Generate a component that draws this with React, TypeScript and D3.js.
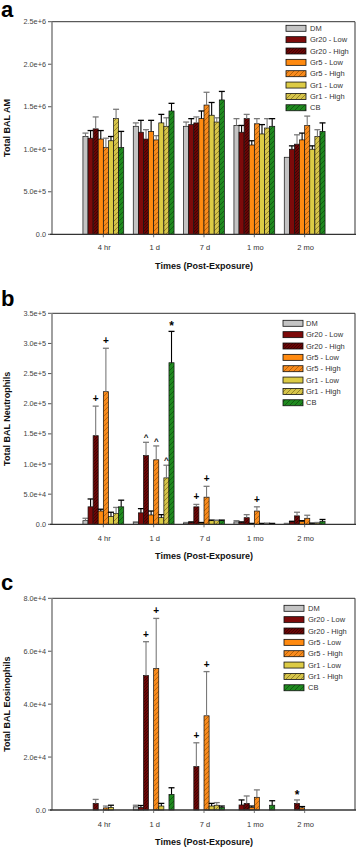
import React from "react";
import * as d3 from "d3";

const TIMES = ["4 hr", "1 d", "7 d", "1 mo", "2 mo"];
const SERIES = ["DM", "Gr20 - Low", "Gr20 - High", "Gr5 - Low", "Gr5 - High", "Gr1 - Low", "Gr1 - High", "CB"];
const FILLS = ["#c4c4c4", "#7d0a0a", "#6a0606", "#ff8a10", "#f88a1c", "#dccb45", "#d6c44a", "#1f8a1f"];
const HATCHED = [false, false, true, false, true, false, true, true];
const HATCH_INK = ["#000", "#000", "#2a0000", "#000", "#8a4a00", "#000", "#6a5a10", "#0a3a0a"];

// Panel a: Total BAL AM (series x time)
const amMean = [
  [1.15e6, 1.27e6, 1.27e6, 1.28e6, 0.906e6],
  [1.13e6, 1.20e6, 1.29e6, 1.20e6, 1.00e6],
  [1.24e6, 1.12e6, 1.31e6, 1.36e6, 1.06e6],
  [1.12e6, 1.21e6, 1.36e6, 1.05e6, 1.11e6],
  [1.02e6, 1.11e6, 1.52e6, 1.30e6, 1.28e6],
  [1.10e6, 1.31e6, 1.40e6, 1.18e6, 1.00e6],
  [1.36e6, 1.27e6, 1.32e6, 1.25e6, 1.15e6],
  [1.02e6, 1.45e6, 1.58e6, 1.27e6, 1.21e6],
];
const amErr = [
  [0.04e6, 0.04e6, 0.05e6, 0.08e6, 0],
  [0.09e6, 0.14e6, 0.07e6, 0.08e6, 0.04e6],
  [0.14e6, 0.11e6, 0.07e6, 0.05e6, 0.11e6],
  [0.10e6, 0.13e6, 0.09e6, 0.05e6, 0.08e6],
  [0.11e6, 0.05e6, 0.15e6, 0.06e6, 0.11e6],
  [0.05e6, 0.10e6, 0.15e6, 0.11e6, 0.04e6],
  [0.11e6, 0.10e6, 0.05e6, 0.11e6, 0.08e6],
  [0.19e6, 0.09e6, 0.10e6, 0.09e6, 0.10e6],
];

// Panel b: Total BAL Neutrophils
const neuMean = [
  [6e3, 3e3, 2e3, 4e3, 1e3],
  [29e3, 19e3, 3e3, 3e3, 4e3],
  [147e3, 114e3, 29e3, 11e3, 14e3],
  [22e3, 15.5e3, 2e3, 1e3, 5e3],
  [220e3, 107e3, 45e3, 22e3, 10e3],
  [13e3, 11e3, 6e3, 1e3, 1.5e3],
  [18e3, 77e3, 6e3, 1.5e3, 2e3],
  [29e3, 268e3, 6e3, 1e3, 5e3],
];
const neuErr = [
  [4e3, 1e3, 1e3, 2e3, 0.5e3],
  [13e3, 7e3, 1e3, 1e3, 1e3],
  [49e3, 22e3, 4e3, 5e3, 6e3],
  [3e3, 6.5e3, 1e3, 0.5e3, 1e3],
  [72e3, 23e3, 18e3, 7e3, 5e3],
  [7e3, 5e3, 1e3, 0.5e3, 0.5e3],
  [10e3, 21e3, 1e3, 0.5e3, 1e3],
  [11e3, 52e3, 1e3, 0.5e3, 3e3],
];

// Panel c: Total BAL Eosinophils
const eosMean = [
  [0, 1.2e3, 0, 0, 0],
  [0, 1.0e3, 0, 1.9e3, 0],
  [2.5e3, 50.8e3, 16.4e3, 2.5e3, 2.5e3],
  [0, 0, 0, 1.0e3, 0.8e3],
  [0.8e3, 53.5e3, 35.6e3, 4.8e3, 0],
  [1.0e3, 1.5e3, 1.5e3, 0, 0],
  [0, 0, 1.8e3, 0, 0],
  [0, 5.9e3, 1.0e3, 1.8e3, 0],
];
const eosErr = [
  [0, 0.6e3, 0, 0, 0],
  [0, 0.7e3, 0, 1.9e3, 0],
  [1.5e3, 12.8e3, 9.0e3, 2.8e3, 1.3e3],
  [0, 0, 0, 0.5e3, 0.5e3],
  [0.7e3, 18.9e3, 16.7e3, 2.8e3, 0],
  [0.8e3, 1.0e3, 1.0e3, 0, 0],
  [0, 0, 1.0e3, 0, 0],
  [0, 2.5e3, 0.5e3, 1.7e3, 0],
];

const amTicks = [0, 5e5, 1e6, 1.5e6, 2e6, 2.5e6];
const amTickLabels = ["0.0", "5.0e+5", "1.0e+6", "1.5e+6", "2.0e+6", "2.5e+6"];
const neuTicks = [0, 5e4, 1e5, 1.5e5, 2e5, 2.5e5, 3e5, 3.5e5];
const neuTickLabels = ["0.0", "5.0e+4", "1.0e+5", "1.5e+5", "2.0e+5", "2.5e+5", "3.0e+5", "3.5e+5"];
const eosTicks = [0, 2e4, 4e4, 6e4, 8e4];
const eosTickLabels = ["0.0", "2.0e+4", "4.0e+4", "6.0e+4", "8.0e+4"];

// annotations: [series, time, symbol]
const neuMarks: [number, number, string][] = [
  [2, 0, "+"], [4, 0, "+"], [2, 1, "^"], [4, 1, "^"], [6, 1, "^"], [7, 1, "*"],
  [2, 2, "+"], [4, 2, "+"], [4, 3, "+"],
];
const eosMarks: [number, number, string][] = [
  [2, 1, "+"], [4, 1, "+"], [2, 2, "+"], [4, 2, "+"], [2, 4, "*"],
];

const FONT = "'Liberation Sans', Arial, sans-serif";
const X0 = 52;
const X1 = 355;

type PanelProps = {
  id: string;
  letter: string;
  letterY: number;
  top: number;
  bottom: number;
  max: number;
  means: number[][];
  errs: number[][];
  ticks: number[];
  tickLabels: string[];
  ytitle: string;
  marks: [number, number, string][];
  legendX: number;
  legendTextX: number;
  legendY: number;
  xLabelY: number;
  xTitleY: number;
};

function Panel(p: PanelProps) {
  const x = d3.scaleLinear().domain([0, 6]).range([X0 + 1, X1]);
  const inner = d3.scaleBand<number>().domain(d3.range(SERIES.length)).range([-20.4, 20.4]).padding(0);
  const y = d3.scaleLinear().domain([0, p.max]).range([p.bottom, p.top]);
  const bw = inner.bandwidth();
  const fillFor = (i: number) => (HATCHED[i] ? `url(#${p.id}-h${i})` : FILLS[i]);
  return (
    <g>
      <text x={1} y={p.letterY} fontFamily={FONT} fontWeight="bold" fontSize={22} fill="#000">{p.letter}</text>
      {/* y ticks */}
      {p.ticks.map((t, k) => (
        <g key={k}>
          <line x1={X0 - 4} x2={X0} y1={y(t)} y2={y(t)} stroke="#555" strokeWidth={1} />
          <text x={46} y={y(t)} dy="0.35em" textAnchor="end" fontFamily={FONT} fontSize={7.3} fill="#444">{p.tickLabels[k]}</text>
        </g>
      ))}
      {/* bars */}
      {p.means.map((row, si) =>
        row.map((v, ti) => {
          if (v <= 0) return null;
          const bx = x(ti + 1) + (inner(si) as number);
          const yt = y(v);
          const e = p.errs[si][ti];
          const cx = bx + bw / 2;
          const ec = si % 2 === 0 ? "#7a7a7a" : "#000";
          return (
            <g key={`${si}-${ti}`}>
              <rect x={bx} y={yt} width={bw} height={p.bottom - yt} fill={fillFor(si)} stroke="#111" strokeWidth={0.7} />
              {e > 0 && (
                <g stroke={ec} strokeWidth={1.1}>
                  <line x1={cx} x2={cx} y1={yt} y2={y(v + e)} />
                  <line x1={cx - 3} x2={cx + 3} y1={y(v + e)} y2={y(v + e)} strokeWidth={1.3} />
                </g>
              )}
            </g>
          );
        })
      )}
      {/* annotations */}
      {p.marks.map(([si, ti, s], k) => {
        const cx = x(ti + 1) + (inner(si) as number) + bw / 2;
        const yy = y(p.means[si][ti] + p.errs[si][ti]) - 5;
        return (
          <text key={k} x={cx} y={s === "*" ? yy + 4 : s === "^" ? yy + 3 : yy + 1} textAnchor="middle" fontFamily={FONT}
            fontWeight="bold" fontSize={s === "*" ? 12 : s === "^" ? 8 : 10} fill="#000">{s}</text>
        );
      })}
      {/* frame */}
      <line x1={X0} x2={X1} y1={p.top} y2={p.top} stroke="#333" strokeWidth={1} />
      <line x1={X1} x2={X1} y1={p.top} y2={p.bottom} stroke="#444" strokeWidth={1.1} />
      <line x1={X0} x2={X0} y1={p.top} y2={p.bottom} stroke="#888" strokeWidth={1.6} />
      <line x1={X0 - 2} x2={X1 + 1} y1={p.bottom} y2={p.bottom} stroke="#333" strokeWidth={1.3} />
      {/* x ticks */}
      {TIMES.map((t, ti) => (
        <g key={t}>
          <line x1={x(ti + 1)} x2={x(ti + 1)} y1={p.bottom} y2={p.bottom + 3} stroke="#555" strokeWidth={0.8} />
          <text x={x(ti + 1) + 1} y={p.xLabelY} textAnchor="middle" fontFamily={FONT} fontSize={7.5} fill="#333">{t}</text>
        </g>
      ))}
      <text x={204} y={p.xTitleY} textAnchor="middle" fontFamily={FONT} fontWeight="bold" fontSize={9} fill="#111">Times (Post-Exposure)</text>
      <text transform={`translate(10,${(p.top + p.bottom) / 2}) rotate(-90)`} textAnchor="middle" fontFamily={FONT}
        fontWeight="bold" fontSize={9} fill="#111">{p.ytitle}</text>
      {/* legend */}
      {SERIES.map((s, i) => (
        <g key={s}>
          <rect x={p.legendX} y={p.legendY + i * 11.35 - 3} width={20} height={6} fill={fillFor(i)} stroke="#111" strokeWidth={0.8} />
          <text x={p.legendTextX} y={p.legendY + i * 11.35} dy="0.35em" fontFamily={FONT} fontSize={7.5} fill="#333">{s}</text>
        </g>
      ))}
    </g>
  );
}

function Patterns({ id }: { id: string }) {
  return (
    <>
      {SERIES.map((_, i) =>
        HATCHED[i] ? (
          <pattern key={i} id={`${id}-h${i}`} patternUnits="userSpaceOnUse" width={i === 2 ? 3 : 5} height={i === 2 ? 3 : 5}>
            <rect width={5} height={5} fill={FILLS[i]} />
            {i === 2 ? (
              <path d="M0,3 L3,0 M-1,1 L1,-1 M2,4 L4,2" stroke={HATCH_INK[i]} strokeWidth={0.6} />
            ) : (
              <path d="M0,5 L5,0 M-1,1 L1,-1 M4,6 L6,4" stroke={HATCH_INK[i]} strokeWidth={0.6} />
            )}
          </pattern>
        ) : null
      )}
    </>
  );
}

export default function App() {
  return (
    <svg width={357} height={847} style={{ position: "absolute", left: 0, top: 0, background: "#fff" }}>
      <defs>
        <Patterns id="a" />
        <Patterns id="b" />
        <Patterns id="c" />
      </defs>
      <Panel id="a" letter="a" letterY={17} top={21.7} bottom={234.3} max={2.5e6} means={amMean} errs={amErr}
        ticks={amTicks} tickLabels={amTickLabels} ytitle="Total BAL AM" marks={[]}
        legendX={286} legendTextX={310} legendY={28.3} xLabelY={250} xTitleY={268.5} />
      <Panel id="b" letter="b" letterY={306} top={313.3} bottom={524.3} max={3.5e5} means={neuMean} errs={neuErr}
        ticks={neuTicks} tickLabels={neuTickLabels} ytitle="Total BAL Neutrophils" marks={neuMarks}
        legendX={283} legendTextX={306} legendY={323.3} xLabelY={540.5} xTitleY={559} />
      <Panel id="c" letter="c" letterY={590} top={598.3} bottom={810} max={8e4} means={eosMean} errs={eosErr}
        ticks={eosTicks} tickLabels={eosTickLabels} ytitle="Total BAL Eosinophils" marks={eosMarks}
        legendX={284} legendTextX={308} legendY={608.3} xLabelY={827} xTitleY={845} />
    </svg>
  );
}
